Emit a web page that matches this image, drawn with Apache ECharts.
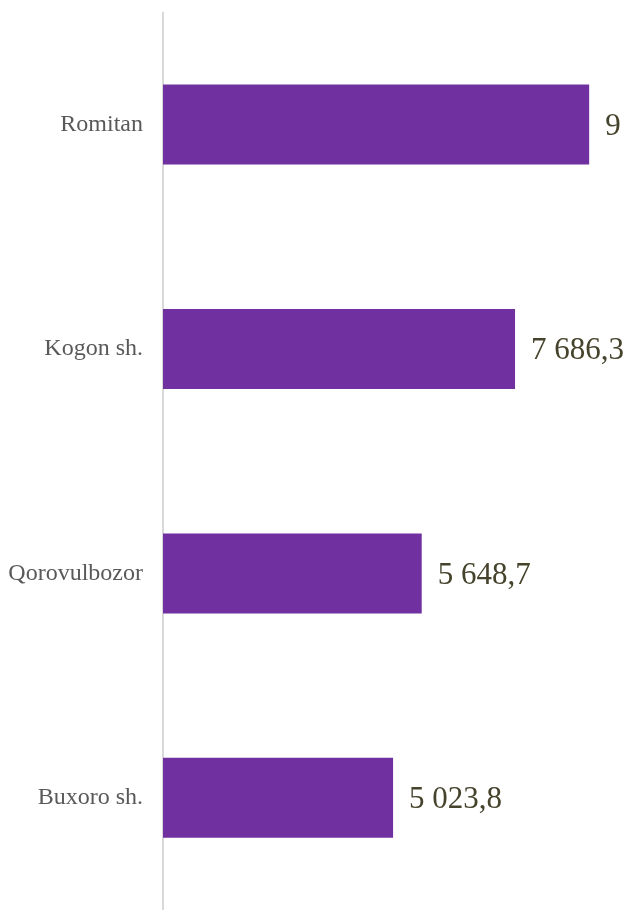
<!DOCTYPE html>
<html>
<head>
<meta charset="utf-8">
<style>html,body{margin:0;padding:0;background:#fff}#c{width:628px;height:910px}</style>
<script src="https://cdn.jsdelivr.net/npm/echarts@6/dist/echarts.min.js"></script>
</head>
<body>
<div id="c"></div>
<script>
const categories = ["Romitan", "Kogon sh.", "Qorovulbozor", "Buxoro sh."];
const values = [9305.0, 7686.3, 5648.7, 5023.8];

function fmt(v) {
  const parts = v.toFixed(1).split(".");
  const intPart = parts[0].replace(/\B(?=(\d{3})+(?!\d))/g, " ");
  return intPart + "," + parts[1];
}

const chart = echarts.init(document.getElementById("c"), null, { renderer: "canvas" });
chart.setOption({
  animation: false,
  grid: { left: 163, top: 12.4, width: 458, height: 901.3, containLabel: false },
  xAxis: {
    type: "value", min: 0, max: 10000, show: false
  },
  yAxis: {
    type: "category", data: categories, inverse: true,
    axisLine: { show: true, lineStyle: { color: "#d9d9d9", width: 2 } },
    axisTick: { show: false },
    axisLabel: { fontFamily: "Liberation Serif", fontSize: 24, color: "#595959", margin: 20 }
  },
  series: [{
    type: "bar",
    barWidth: 80,
    itemStyle: { color: "#7030a0" },
    data: values.map((v, i) => i === 0
      ? { value: v, label: { width: 20, overflow: "truncate", ellipsis: "" } }
      : v),
    label: {
      show: true, position: "right", distance: 16, offset: [0, 2],
      fontFamily: "Liberation Serif", fontSize: 31, color: "#46432c",
      formatter: p => fmt(p.value)
    }
  }]
});
</script>
</body>
</html>
